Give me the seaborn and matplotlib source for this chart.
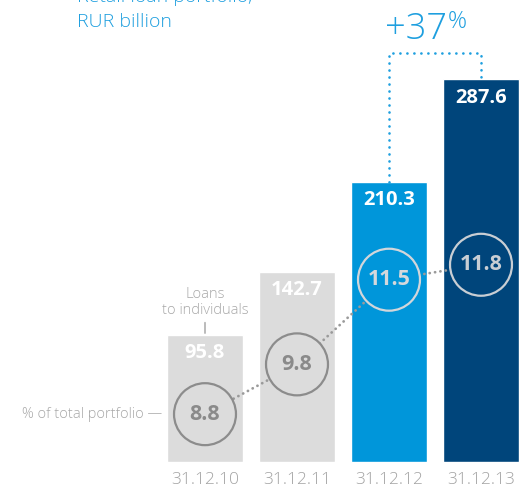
import matplotlib
matplotlib.use("Agg")
import matplotlib.pyplot as plt
import seaborn as sns
import pandas as pd

# Retail loan portfolio, RUR billion, and its share of the total portfolio (%)
dates = ["31.12.10", "31.12.11", "31.12.12", "31.12.13"]
loans = [95.8, 142.7, 210.3, 287.6]
share = [8.8, 9.8, 11.5, 11.8]
growth_text = "+37"

bar_colors = ["#dcdcdc", "#dcdcdc", "#0096da", "#00457b"]
ring_colors = ["#8c8c8c", "#8c8c8c", "#d2d6da", "#c9ced4"]
ring_text_colors = ["#8a8a8a", "#8a8a8a", "#d4d8dc", "#c9ced4"]
accent = "#1e9fdf"
soft_gray = "#a8a8a8"

sns.set_theme(style="white")
plt.rcParams["font.family"] = ["Open Sans", "DejaVu Sans"]

W, H, DPI = 521, 491, 100
fig = plt.figure(figsize=(W / DPI, H / DPI), dpi=DPI)

px_per_unit = 1.33          # bar scale, pixels per RUR billion
base_px = 462               # baseline of bars from top of image
ax = fig.add_axes([0, (H - base_px) / H, 1, base_px / H])

df = pd.DataFrame({"date": dates, "loans": loans, "share": share})
sns.barplot(data=df, x="date", y="loans", hue="date", palette=bar_colors,
            width=0.826, saturation=1, legend=False, ax=ax, zorder=1)

ax.set_xlim(-205 / 92, 316 / 92)
ax.set_ylim(0, base_px / px_per_unit)
for s in ax.spines.values():
    s.set_visible(False)
ax.set_yticks([])
ax.set_xlabel("")
ax.set_ylabel("")
ax.tick_params(axis="x", length=0, pad=7.5, labelsize=12.5, labelcolor="#a3a3a3")
for lab in ax.get_xticklabels():
    lab.set_fontweight("light")

# value labels inside the bar tops
for i, v in enumerate(loans):
    ax.annotate(f"{v}", (i, v), xytext=(0, -13), textcoords="offset points",
                ha="center", va="center", color="white", fontsize=14.5,
                fontweight="bold", zorder=5)

# growth bracket between the last two bars
bracket_top = loans[-1] + 20
ax.plot([2, 2, 3, 3], [loans[2], bracket_top, bracket_top, loans[3]],
        color=accent, lw=1.9, linestyle=(0, (0.05, 2.6)),
        dash_capstyle="round", solid_capstyle="round", zorder=4)
ax.annotate(growth_text, (2.5, bracket_top), xytext=(8.5, 10),
            textcoords="offset points", ha="right", va="baseline",
            color=accent, fontsize=26, fontweight="light")
ax.annotate("%", (2.5, bracket_top), xytext=(9.5, 18),
            textcoords="offset points", ha="left", va="baseline",
            color=accent, fontsize=17, fontweight="light")

# callout for the bars
ax.annotate("Loans\nto individuals", xy=(0, loans[0]), xytext=(0, 12),
            textcoords="offset points", ha="center", va="bottom",
            color=soft_gray, fontsize=10.5, fontweight="light",
            linespacing=1.1,
            arrowprops=dict(arrowstyle="-", color=soft_gray, lw=1.1,
                            shrinkA=1, shrinkB=1))

# share of total portfolio on its own scale
ax2 = ax.twinx()
ax2.set_ylim(7.8395, 17.1166)
ax2.set_xlim(ax.get_xlim())
ax2.axis("off")
xs = list(range(len(share)))
ax2.plot(xs, share, color="#9a9a9a", lw=2.0, linestyle=(0, (0.05, 1.9)),
         dash_capstyle="round", zorder=2)
ax2.scatter(xs, share, s=1990, facecolors=bar_colors, edgecolors=ring_colors,
            linewidths=1.6, zorder=3)
for i, v in enumerate(share):
    ax2.text(i, v, f"{v}", ha="center", va="center", fontsize=15.5,
             fontweight="bold", color=ring_text_colors[i], zorder=4)

ax2.annotate("% of total portfolio \u2014", (0, share[0]), xytext=(-31, 0),
             textcoords="offset points", ha="right", va="center",
             color=soft_gray, fontsize=10.5, fontweight="light")

# title
fig.text(77 / W, 1 - 2 / H, "Retail loan portfolio,", color=accent,
         fontsize=14, fontweight="light", ha="left", va="baseline")
fig.text(77 / W, 1 - 27 / H, "RUR billion", color=accent,
         fontsize=14, fontweight="light", ha="left", va="baseline")

fig.savefig("out.png", dpi=DPI)
